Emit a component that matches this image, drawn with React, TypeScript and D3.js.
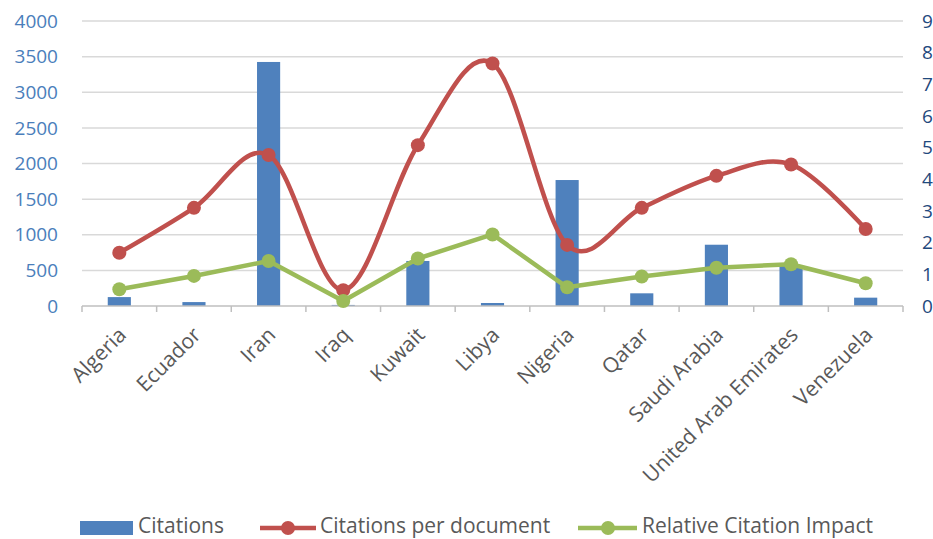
import React from "react";
import * as d3 from "d3";

const categories = ["Algeria", "Ecuador", "Iran", "Iraq", "Kuwait", "Libya", "Nigeria", "Qatar", "Saudi Arabia", "United Arab Emirates", "Venezuela"];
const citations = [125, 55, 3425, 15, 632, 42, 1768, 178, 860, 570, 117];
const citationsPerDoc = [1.68, 3.1, 4.77, 0.5, 5.08, 7.66, 1.93, 3.1, 4.11, 4.47, 2.43];
const relativeImpact = [0.53, 0.95, 1.42, 0.16, 1.5, 2.26, 0.59, 0.93, 1.21, 1.32, 0.72];
const leftTicks = [0, 500, 1000, 1500, 2000, 2500, 3000, 3500, 4000];
const rightTicks = [0, 1, 2, 3, 4, 5, 6, 7, 8, 9];

const W = 933, H = 539;
const M = { left: 82, right: 903, top: 21, bottom: 306 };
const FONT = "'Open Sans', 'Liberation Sans', sans-serif";
const BLUE = "#4F81BD", RED = "#C0504D", GREEN = "#9BBB59";

export default function App() {
  const x = d3.scaleBand().domain(categories).range([M.left, M.right]).paddingInner(0).paddingOuter(0);
  const yL = d3.scaleLinear().domain([0, 4000]).range([M.bottom, M.top]);
  const yR = d3.scaleLinear().domain([0, 9]).range([M.bottom, M.top]);
  const cx = (c: string) => (x(c) as number) + x.bandwidth() / 2;
  const barW = x.bandwidth() * 0.31;

  const redLine = d3.line<number>().x((_, i) => cx(categories[i])).y((d) => yR(d)).curve(d3.curveCardinal.tension(0));
  const greenLine = d3.line<number>().x((_, i) => cx(categories[i])).y((d) => yR(d));

  return (
    <svg width={W} height={H} style={{ position: "absolute", left: 0, top: 0, background: "#fff" }}>
      {leftTicks.slice(1).map((t) => (
        <line key={t} x1={M.left} x2={M.right} y1={yL(t)} y2={yL(t)} stroke="#D9D9D9" strokeWidth={1.5} />
      ))}
      {leftTicks.map((t) => (
        <text key={t} x={58} y={yL(t)} dy="0.35em" textAnchor="end" fontFamily={FONT} fontSize={19} fill="#4A7EBB">{t}</text>
      ))}
      {rightTicks.map((t) => (
        <text key={t} x={922} y={yR(t)} dy="0.35em" textAnchor="start" fontFamily={FONT} fontSize={19} fill="#1F497D">{t}</text>
      ))}
      {categories.map((c, i) => (
        <rect key={c} x={cx(c) - barW / 2} y={yL(citations[i])} width={barW} height={M.bottom - yL(citations[i])} fill={BLUE} />
      ))}
      <line x1={M.left} x2={M.right} y1={M.bottom} y2={M.bottom} stroke="#BFBFBF" strokeWidth={1.5} />
      {d3.range(categories.length + 1).map((i) => {
        const xx = M.left + i * x.bandwidth();
        return <line key={i} x1={xx} x2={xx} y1={M.bottom} y2={M.bottom + 6} stroke="#BFBFBF" strokeWidth={1.5} />;
      })}
      {categories.map((c) => (
        <text key={c} transform={`translate(${cx(c) + 3},${M.bottom + 25}) rotate(-45)`} textAnchor="end" dy="0.35em" fontFamily={FONT} fontSize={21} fill="#595959">{c}</text>
      ))}
      <path d={redLine(citationsPerDoc) || ""} fill="none" stroke={RED} strokeWidth={4.5} strokeLinejoin="round" strokeLinecap="round" />
      {citationsPerDoc.map((v, i) => (
        <circle key={i} cx={cx(categories[i])} cy={yR(v)} r={7} fill={RED} />
      ))}
      <path d={greenLine(relativeImpact) || ""} fill="none" stroke={GREEN} strokeWidth={4.5} strokeLinejoin="round" strokeLinecap="round" />
      {relativeImpact.map((v, i) => (
        <circle key={i} cx={cx(categories[i])} cy={yR(v)} r={7} fill={GREEN} />
      ))}
      <g fontFamily={FONT} fontSize={21} fill="#595959">
        <rect x={80} y={521} width={53} height={14} fill={BLUE} />
        <text x={138} y={526} dy="0.35em">Citations</text>
        <line x1={260} x2={316} y1={528} y2={528} stroke={RED} strokeWidth={4.5} />
        <circle cx={288} cy={528} r={7} fill={RED} />
        <text x={320} y={526} dy="0.35em">Citations per document</text>
        <line x1={578} x2={637} y1={528} y2={528} stroke={GREEN} strokeWidth={4.5} />
        <circle cx={608} cy={528} r={7} fill={GREEN} />
        <text x={642} y={526} dy="0.35em">Relative Citation Impact</text>
      </g>
    </svg>
  );
}
